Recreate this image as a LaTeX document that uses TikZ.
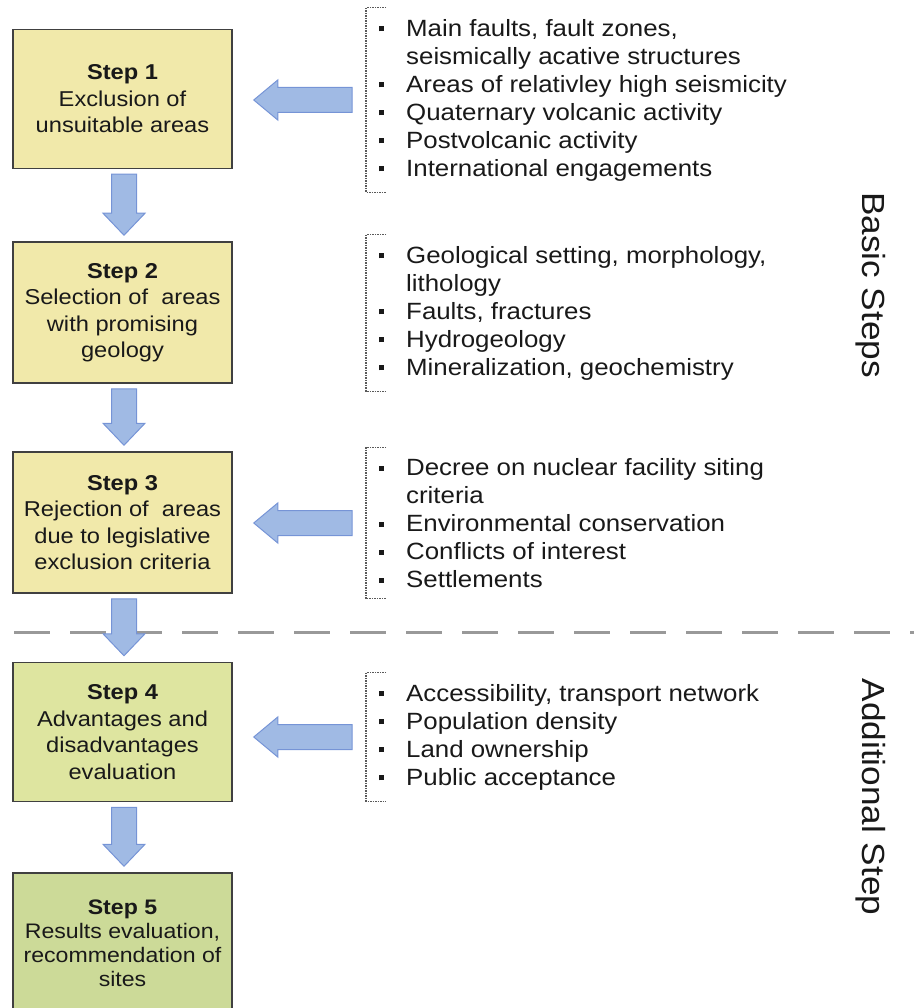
\documentclass[tikz,border=0pt]{standalone}
\usepackage{fontspec}
\setmainfont{Liberation Sans}[FakeStretch=1.1]
\usetikzlibrary{calc}
\definecolor{boxyellow}{RGB}{241,233,170}
\definecolor{boxgreen}{RGB}{222,229,160}
\definecolor{boxgreenb}{RGB}{204,218,152}
\definecolor{arrowfill}{RGB}{160,186,228}
\definecolor{arrowedge}{RGB}{118,148,214}
\newcommand\itm{\makebox[40pt][l]{\hspace{12.5pt}\raisebox{0.2em}{\rule{5pt}{5pt}}}}
\newcommand\cnt{\hspace*{40pt}}
\begin{document}
\begin{tikzpicture}[x=1pt,y=-1pt]
\tikzset{
 stepbox/.style={draw=black!75, line width=1.5pt, minimum width=219pt, minimum height=139pt, inner sep=0pt, align=center, font=\fontsize{21.5}{26.5}\selectfont, text=black!90},
 listnode/.style={inner xsep=0pt, inner ysep=11pt, align=left, anchor=west, font=\fontsize{23.5}{28}\selectfont, text=black!90},
 bracket/.style={draw=black!65, line width=1.2pt, dash pattern=on 1.5pt off 1pt},
 bigarrow/.style={fill=arrowfill, draw=arrowedge, line width=1pt, line join=miter},
 sepline/.style={draw=black!40, line width=3pt, dash pattern=on 36pt off 20pt},
 sidelabel/.style={rotate=-90, font=\fontsize{32}{32}\selectfont, text=black!90}
}
\useasboundingbox (0,0) rectangle (914,1008);

% step boxes
\node[stepbox, fill=boxyellow] (b1) at (122.5,99) {\textbf{Step 1}\\Exclusion of\\unsuitable areas};
\node[stepbox, fill=boxyellow, minimum height=141pt] (b2) at (122.5,312.5) {\textbf{Step 2}\\Selection of\ \ areas\\with promising\\geology};
\node[stepbox, fill=boxyellow, minimum height=141pt] (b3) at (122.5,522.5) {\textbf{Step 3}\\Rejection of\ \ areas\\due to legislative\\exclusion criteria};
\node[stepbox, fill=boxgreen] (b4) at (122.5,732) {\textbf{Step 4}\\Advantages and\\disadvantages\\evaluation};
\node[stepbox, fill=boxgreenb, minimum height=140pt, font=\fontsize{21}{24}\selectfont] (b5) at (122.5,943) {\textbf{Step 5}\\Results evaluation,\\recommendation of\\sites};

% lists
\node[listnode] (l1) at (366,100) {\itm Main faults, fault zones,\\ \cnt seismically acative structures\\ \itm Areas of relativley high seismicity\\ \itm Quaternary volcanic activity\\ \itm Postvolcanic activity\\ \itm International engagements};
\node[listnode] (l2) at (366,313) {\itm Geological setting, morphology,\\ \cnt lithology\\ \itm Faults, fractures\\ \itm Hydrogeology\\ \itm Mineralization, geochemistry};
\node[listnode] (l3) at (366,523) {\itm Decree on nuclear facility siting\\ \cnt criteria\\ \itm Environmental conservation\\ \itm Conflicts of interest\\ \itm Settlements};
\node[listnode] (l4) at (366,737) {\itm Accessibility, transport network\\ \itm Population density\\ \itm Land ownership\\ \itm Public acceptance};

\foreach \l in {l1,l2,l3,l4}
  \draw[bracket] ($(\l.north west)+(20,0)$) -- (\l.north west) -- (\l.south west) -- ($(\l.south west)+(20,0)$);

% separator
\coordinate (dl) at (14,632);
\coordinate (dr) at (914,632);
\draw[sepline] (dl) -- (dr);

% left arrows
\foreach \b/\l in {b1/l1,b3/l3,b4/l4}{
  \coordinate (t) at ($(\b.east |- \l.west)+(21,0)$);
  \coordinate (s) at ($(\l.west)+(-14,0)$);
  \draw[bigarrow] ($(s)+(0,-12.5)$) -- ($(t)+(24,-12.5)$) -- ($(t)+(24,-20)$) -- (t) -- ($(t)+(24,20)$) -- ($(t)+(24,12.5)$) -- ($(s)+(0,12.5)$) -- cycle;
}

% down arrows
\foreach \a/\b in {b1/b2,b2/b3,b3/b4,b4/b5}{
  \coordinate (s) at ($(\a.south)+(1.5,5)$);
  \coordinate (t) at ($(\b.north)+(1.5,-6)$);
  \draw[bigarrow] ($(s)+(-12.5,0)$) -- ($(t)+(-12.5,-22)$) -- ($(t)+(-21,-22)$) -- (t) -- ($(t)+(21,-22)$) -- ($(t)+(12.5,-22)$) -- ($(s)+(12.5,0)$) -- cycle;
}

% side labels
\node[sidelabel] (basic) at (871,285) {Basic Steps};
\node[sidelabel] (addl) at (871,797) {Additional Step};
\end{tikzpicture}
\end{document}
